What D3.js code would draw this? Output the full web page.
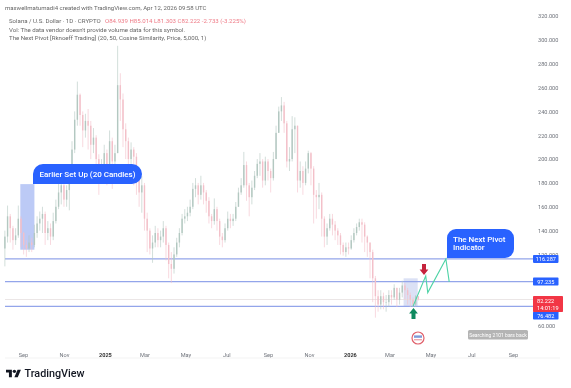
<!DOCTYPE html>
<html>
<head>
<meta charset="utf-8">
<script src="https://cdn.jsdelivr.net/npm/d3@7"></script>
<style>
  html, body { margin: 0; padding: 0; background: #fff; }
  svg { display: block; font-family: Roboto, sans-serif; filter: blur(0.4px); }
</style>
</head>
<body>
<svg id="chart" width="571" height="388"></svg>
<script>
// Part 1: Data (one candle per 4 days, last one is the live bar)
const firstCandle = "2024-08-05";
const stepDays = 4;
const firstOpen = 125;

const closes = [
  135,152,142,132,136,150,138,128,125,130,
  128,138,146,150,154,138,142,135,148,160,
  172,178,166,174,187,208,233,254,237,224,
  232,228,212,218,200,186,195,205,190,215,
  198,205,262,250,225,215,200,208,202,182,
  172,178,150,140,125,130,138,132,135,142,
  128,112,108,120,130,138,150,152,155,160,
  175,178,170,178,172,165,152,148,158,148,
  135,132,142,150,148,150,160,172,178,195,
  178,168,176,186,196,198,182,198,190,184,
  200,222,240,245,230,198,200,225,228,182,
  190,180,192,205,192,170,168,170,150,135,
  142,150,145,140,136,128,122,126,125,132,
  138,143,147,145,135,130,122,100,85,78,
  85,80,80,86,84,92,82,88,94,90,
  86,82,78,84.939,82.222
];
const highs = [
  140,161,154,144,142,161,152,139,132,136,
  134,145,152,156,160,156,148,146,155,166,
  180,185,180,178,192,215,240,265,255,240,
  238,242,232,226,220,204,200,212,208,224,
  218,212,295,272,255,230,218,214,210,205,
  186,186,180,155,142,136,144,142,140,148,
  144,130,122,126,134,142,154,158,160,166,
  180,184,180,186,180,174,168,154,167,160,
  150,138,146,156,154,154,164,176,184,206,
  198,180,182,190,200,205,200,202,200,192,
  206,228,244,252,248,232,210,236,235,228,
  198,194,198,207,206,194,174,180,172,152,
  146,154,154,148,142,138,130,130,130,136,
  142,146,150,150,147,136,130,124,102,90,
  90,88,86,90,90,95,92,92,98,96,
  92,88,84,86,85.014
];
const lows = [
  110,130,130,124,128,134,126,120,118,122,
  122,126,134,140,138,128,132,128,132,146,
  158,162,160,160,157,185,205,228,228,210,
  218,208,200,205,190,170,182,190,178,188,
  175,192,205,232,210,200,186,196,178,170,
  160,155,140,122,120,113,126,126,126,130,
  115,100,96,104,118,126,136,146,148,152,
  158,168,162,166,162,155,146,142,145,140,
  128,126,130,140,142,144,148,160,170,176,
  165,152,162,174,184,186,176,178,182,172,
  182,200,222,232,222,193,190,198,205,172,
  176,170,178,188,178,146,150,158,135,126,
  128,140,136,132,128,120,119,118,120,124,
  130,136,140,130,122,118,100,80,67,72,
  74,74,72,76,78,82,76,78,84,82,
  78,76,76,76,81.303
];

// 100 and 80 sit fully behind the price labels in the picture
const priceTicks = [320,300,280,260,240,220,200,180,160,140,120,60];
const timeTickDates = ["2024-09-01","2024-11-01","2025-01-01","2025-03-01","2025-05-01","2025-07-01","2025-09-01","2025-11-01","2026-01-01","2026-03-01","2026-05-01","2026-07-01","2026-09-01"];
const timeTickLabels = ["Sep","Nov","2025","Mar","May","Jul","Sep","Nov","2026","Mar","May","Jul","Sep"];

const pivotLevels = [116.287, 97.235, 76.482];
const lastPrice = 82.222;
const projectionDates = ["2026-04-05","2026-04-24","2026-04-27","2026-05-24","2026-05-29"];
const projectionPrices = [76.482,102,88,116.287,97];

const headerLines = [
  "Vol: The data vendor doesn't provide volume data for this symbol.",
  "The Next Pivot [Rknoeff Trading] (20, 50, Cosine Similarity, Price, 5,000, 1)"
];

// Part 2: Scales
const svg = d3.select("#chart");
const parseDay = d3.utcParse("%Y-%m-%d");
const xScale = d3.scaleUtc()
                 .domain([parseDay("2024-09-01"), parseDay("2026-09-01")])
                 .range([23, 513]);
const yScale = d3.scaleLinear()
                 .domain([60, 320])
                 .range([326, 16]);
const plotLeft = 5, plotRight = 533;

const candles = closes.map((c, i) => ({
  date: d3.utcDay.offset(parseDay(firstCandle), i * stepDays),
  open: i === closes.length - 1 ? 84.939 : (i === 0 ? firstOpen : closes[i - 1]),
  close: c,
  high: highs[i],
  low: lows[i]
}));
const upColor = "#b3c8c1", downColor = "#f3c0c9";
const candleColor = d => d.close >= d.open ? upColor : downColor;

// Part 3: Earlier set up and latest set up boxes
svg.append("rect")
   .attr("x", xScale(parseDay("2024-08-28")))
   .attr("width", xScale(parseDay("2024-09-18")) - xScale(parseDay("2024-08-28")))
   .attr("y", yScale(179))
   .attr("height", yScale(124) - yScale(179))
   .attr("fill", "#bccaf6");
svg.append("rect")
   .attr("x", xScale(parseDay("2026-03-22")))
   .attr("width", xScale(parseDay("2026-04-12")) - xScale(parseDay("2026-03-22")))
   .attr("y", yScale(100))
   .attr("height", yScale(76.482) - yScale(100))
   .attr("fill", "#dbe1f5");

// Part 4: Horizontal levels
svg.append("line")
   .attr("x1", plotLeft).attr("x2", plotRight)
   .attr("y1", yScale(lastPrice)).attr("y2", yScale(lastPrice))
   .attr("stroke", "#e6e0e0").attr("stroke-width", 0.8);
svg.selectAll(".level")
   .data(pivotLevels)
   .join("line")
   .attr("class", "level")
   .attr("x1", plotLeft).attr("x2", plotRight)
   .attr("y1", d => yScale(d)).attr("y2", d => yScale(d))
   .attr("stroke", "#93a5ea")
   .attr("stroke-width", 1.1);

// Part 5: Candles
const chart = svg.append("g").attr("class", "candles");
chart.selectAll("line")
     .data(candles)
     .join("line")
     .attr("x1", d => xScale(d.date)).attr("x2", d => xScale(d.date))
     .attr("y1", d => yScale(d.high)).attr("y2", d => yScale(d.low))
     .attr("stroke", candleColor)
     .attr("stroke-width", 0.6);
chart.selectAll("rect")
     .data(candles)
     .join("rect")
     .attr("x", d => xScale(d.date) - 0.7)
     .attr("width", 1.4)
     .attr("y", d => yScale(Math.max(d.open, d.close)))
     .attr("height", d => Math.max(0.5, Math.abs(yScale(d.open) - yScale(d.close))))
     .attr("fill", candleColor);

// Part 6: Projection of the indicator
const projection = projectionDates.map((d, i) => [xScale(parseDay(d)), yScale(projectionPrices[i])]);
svg.append("path")
   .attr("d", d3.line()(projection))
   .attr("fill", "none")
   .attr("stroke", "#4fd3a6")
   .attr("stroke-width", 1.1);

// Part 7: Arrows
const arrow = d3.line();
const drawArrow = (cx, top, dir, color) => {
  const h = 11, w = 4.4, neck = 2;
  const tipY = dir > 0 ? top + h : top;
  const baseY = dir > 0 ? top : top + h;
  const headY = tipY - dir * 5.5;
  svg.append("path")
     .attr("d", arrow([[cx - neck, baseY], [cx + neck, baseY], [cx + neck, headY], [cx + w, headY], [cx, tipY], [cx - w, headY], [cx - neck, headY]]) + "Z")
     .attr("fill", color);
};
drawArrow(424, 264, 1, "#c5233c");
drawArrow(413.5, 308, -1, "#0f8a5f");

// Part 8: Bubbles
const bubbleBlue = "#2962ff";
svg.append("path")
   .attr("d", "M33 184V174a10 10 0 0 1 10-10H132a10 10 0 0 1 0 20Z")
   .attr("fill", bubbleBlue);
svg.append("text")
   .attr("x", 87.5).attr("y", 177)
   .attr("text-anchor", "middle")
   .attr("fill", "#fff")
   .attr("font-size", 8)
   .attr("font-weight", 500)
   .text("Earlier Set Up (20 Candles)");
svg.append("path")
   .attr("d", "M447 258V238a9 9 0 0 1 9-9H505a9 9 0 0 1 9 9V249a9 9 0 0 1-9 9Z")
   .attr("fill", bubbleBlue);
svg.selectAll(".pivotText")
   .data(["The Next Pivot", "Indicator"])
   .join("text")
   .attr("class", "pivotText")
   .attr("x", 453)
   .attr("y", (d, i) => 242 + i * 8.4)
   .attr("fill", "#fff")
   .attr("font-size", 8)
   .attr("font-weight", 500)
   .text(d => d);

// Part 9: Axes
const yAxis = d3.axisRight(yScale).tickValues(priceTicks).tickSize(0).tickFormat(d3.format(".3f"));
const yAxisG = svg.append("g").attr("transform", "translate(538, 0)").call(yAxis);
yAxisG.select(".domain").remove();
yAxisG.selectAll("text")
      .attr("x", 0)
      .attr("fill", "#6f737b")
      .attr("font-family", "Roboto, sans-serif")
      .attr("font-size", 5.6);

const xAxis = d3.axisBottom(xScale)
                .tickValues(timeTickDates.map(parseDay))
                .tickSize(0)
                .tickFormat((d, i) => timeTickLabels[i]);
const xAxisG = svg.append("g").attr("transform", "translate(0, 345)").call(xAxis);
xAxisG.select(".domain").remove();
xAxisG.selectAll("text")
      .attr("y", 8.5)
      .attr("fill", (d, i) => /^\d/.test(timeTickLabels[i]) ? "#333" : "#6f737b")
      .attr("font-weight", (d, i) => /^\d/.test(timeTickLabels[i]) ? 700 : 400)
      .attr("font-family", "Roboto, sans-serif")
      .attr("font-size", 5.6);

svg.append("line")
   .attr("x1", 5).attr("x2", 560).attr("y1", 358).attr("y2", 358)
   .attr("stroke", "#f0f0f0").attr("stroke-width", 0.8);

// Part 10: Price labels on the right
const priceLabels = [
  {text: "116.287", y: yScale(116.287), color: bubbleBlue},
  {text: "97.235", y: yScale(97.235), color: bubbleBlue},
  {text: "76.482", y: 315.5, color: bubbleBlue}
];
svg.selectAll(".priceLabel")
   .data(priceLabels)
   .join("rect")
   .attr("class", "priceLabel")
   .attr("x", 533).attr("width", 25.5)
   .attr("y", d => d.y - 4).attr("height", 8)
   .attr("rx", 0.8)
   .attr("fill", d => d.color);
svg.selectAll(".priceLabelText")
   .data(priceLabels)
   .join("text")
   .attr("class", "priceLabelText")
   .attr("x", 545.8)
   .attr("y", d => d.y + 2)
   .attr("text-anchor", "middle")
   .attr("fill", "#fff")
   .attr("font-size", 5.6)
   .text(d => d.text);

svg.append("rect")
   .attr("x", 533).attr("y", 296).attr("width", 30).attr("height", 16)
   .attr("rx", 0.8)
   .attr("fill", "#f23645");
svg.selectAll(".lastText")
   .data(["82.222", "14:01:19"])
   .join("text")
   .attr("class", "lastText")
   .attr("x", 537)
   .attr("y", (d, i) => 302.5 + i * 7)
   .attr("fill", "#fff")
   .attr("font-size", 5.6)
   .text(d => d);

// Part 11: Status badge and flag icon
svg.append("rect")
   .attr("x", 468).attr("y", 330).attr("width", 60).attr("height", 9.5)
   .attr("rx", 1.5)
   .attr("fill", "#b4b4b4");
svg.append("text")
   .attr("x", 498).attr("y", 336.8)
   .attr("text-anchor", "middle")
   .attr("fill", "#fff")
   .attr("font-size", 5)
   .text("Searching 2101 bars back");

const flag = svg.append("g").attr("transform", "translate(418, 338)");
flag.append("circle").attr("r", 6).attr("fill", "#fff").attr("stroke", "#e0606b").attr("stroke-width", 1.2);
flag.append("rect").attr("x", -4).attr("y", -2.6).attr("width", 8).attr("height", 2.4).attr("fill", "#7f9bd8");
flag.append("rect").attr("x", -4).attr("y", 1).attr("width", 8).attr("height", 1.4).attr("fill", "#eba9b0");

// Part 12: Header texts
svg.append("text")
   .attr("x", 5).attr("y", 10)
   .attr("fill", "#666")
   .attr("font-size", 6.05)
   .text("maxwellmatumadi4 created with TradingView.com, Apr 12, 2026 09:58 UTC");
const status = svg.append("text")
   .attr("x", 9).attr("y", 23)
   .attr("font-size", 6.1);
status.append("tspan").attr("fill", "#666").text("Solana / U.S. Dollar · 1D · CRYPTO");
status.append("tspan").attr("x", 105).attr("fill", "#ee7a86").text("O84.939 H85.014 L81.303 C82.222 -2.733 (-3.225%)");
svg.selectAll(".headerLine")
   .data(headerLines)
   .join("text")
   .attr("class", "headerLine")
   .attr("x", 9)
   .attr("y", (d, i) => 31.5 + i * 8.5)
   .attr("fill", "#666")
   .attr("font-size", 6.1)
   .text(d => d);

// Part 13: TradingView logo
const logo = svg.append("g").attr("transform", "translate(6, 368) scale(0.42)");
logo.append("path").attr("d", "M14 22H7V11H0V4h14v18zM28 22h-8l7.5-18h8L28 22z").attr("fill", "#131722");
logo.append("circle").attr("cx", 20).attr("cy", 8).attr("r", 4).attr("fill", "#131722");
svg.append("text")
   .attr("x", 24.5).attr("y", 377)
   .attr("fill", "#131722")
   .attr("font-size", 10.8)
   .attr("font-weight", 500)
   .text("TradingView");
</script>
</body>
</html>
